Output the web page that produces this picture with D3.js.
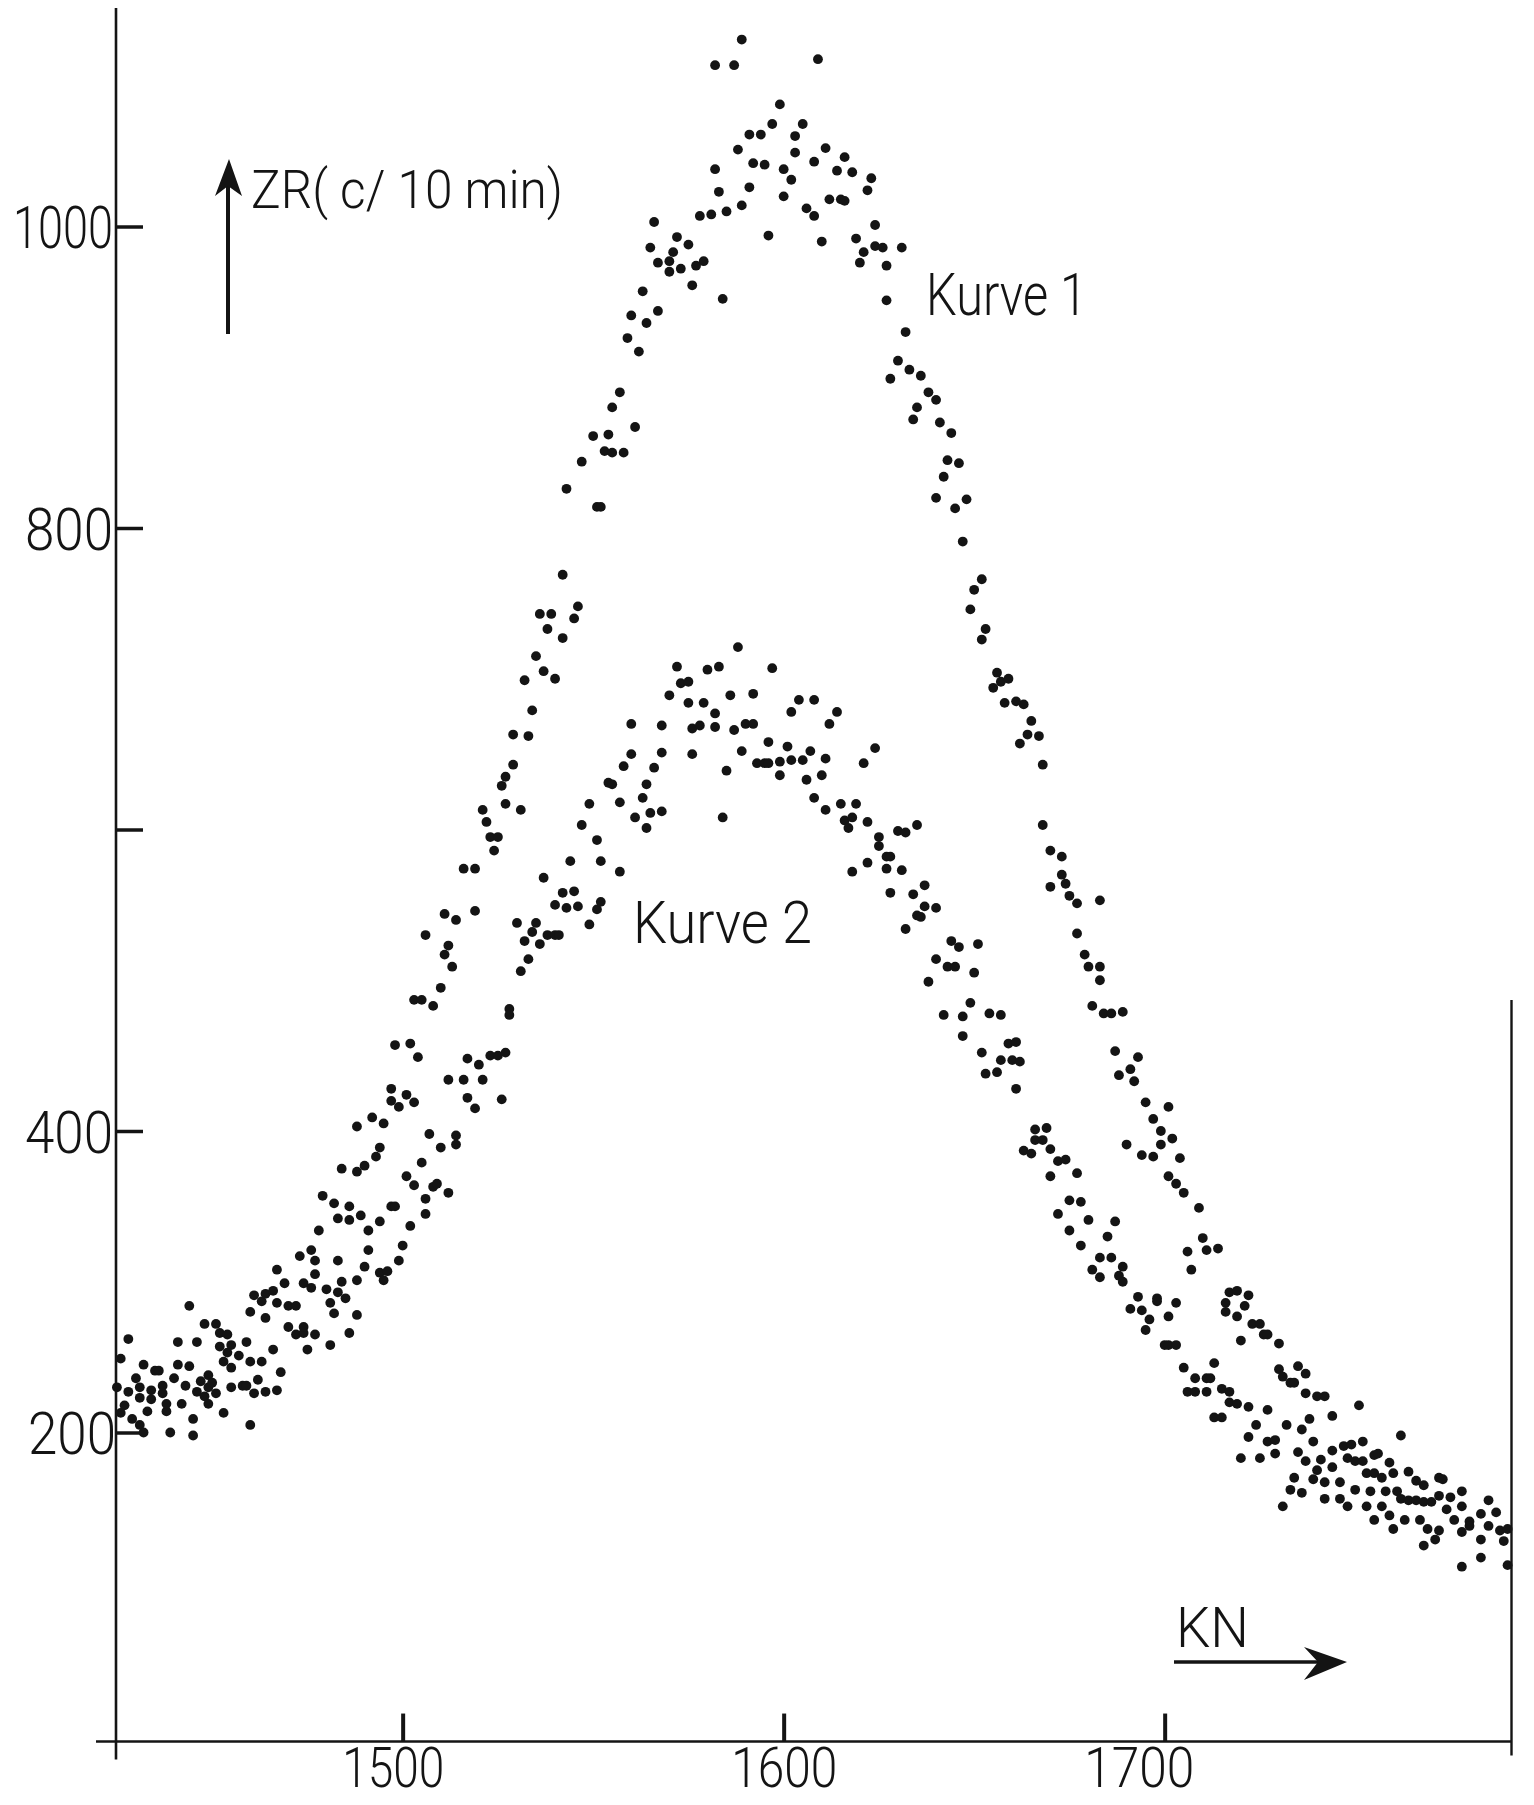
<!DOCTYPE html>
<html><head><meta charset="utf-8">
<script src="https://cdn.jsdelivr.net/npm/d3@7"></script>
<style>body{margin:0;background:#fff}svg{display:block}</style>
</head><body>
<svg id="c" width="1534" height="1805"></svg>
<script>
// Kurve 1: channel number (KN) and count rate ZR (c/10min)
const kn1 = [1426,1428,1430,1432,1435,1436,1440,1441,1441,1444,1444,1446,1448,1451,1452,1452,1454,1454,1455,1459,1460,1461,1463,1464,1464,1466,1467,1469,1473,1476,1477,1478,1479,1482,1483,1484,1486,1486,1488,1488,1490,1492,1493,1494,1495,1497,1497,1498,1499,1501,1502,1503,1503,1504,1505,1506,1508,1510,1511,1511,1512,1513,1514,1516,1519,1519,1521,1522,1523,1524,1525,1526,1527,1527,1529,1529,1531,1532,1533,1534,1535,1536,1537,1538,1539,1540,1542,1542,1543,1545,1546,1547,1550,1551,1552,1553,1554,1555,1555,1557,1558,1559,1560,1561,1562,1563,1564,1565,1566,1567,1567,1570,1570,1571,1572,1573,1575,1576,1577,1578,1579,1581,1582,1582,1583,1584,1585,1587,1588,1589,1589,1591,1591,1592,1594,1595,1596,1597,1599,1600,1600,1602,1603,1603,1605,1606,1608,1608,1609,1610,1611,1612,1614,1615,1616,1616,1618,1619,1620,1621,1622,1623,1624,1624,1626,1627,1627,1628,1630,1631,1632,1633,1634,1635,1636,1638,1640,1640,1641,1642,1643,1644,1645,1646,1647,1648,1649,1650,1652,1652,1653,1655,1656,1657,1658,1659,1661,1662,1663,1664,1665,1667,1668,1668,1670,1670,1673,1673,1674,1675,1677,1677,1679,1680,1681,1683,1683,1683,1684,1686,1687,1688,1689,1690,1691,1692,1693,1694,1695,1697,1697,1699,1699,1701,1701,1702,1703,1704,1705,1706,1707,1709,1710,1711,1714,1716,1716,1717,1719,1719,1720,1721,1722,1723,1725,1726,1727,1730,1730,1731,1732,1733,1734,1735,1736,1737,1737,1738,1739,1740,1741,1742,1744,1744,1747,1748,1749,1750,1750,1751,1752,1752,1753,1754,1755,1755,1756,1757,1758,1759,1760,1761,1762,1764,1766,1768,1772,1772,1773,1775,1778,1780,1783,1785,1787,1788,1790];
const zr1 = [249,262,236,245,241,241,236,245,260,284,244,260,272,272,266,257,265,253,258,260,280,291,287,276,292,294,308,299,317,321,314,334,357,352,342,375,341,350,373,403,377,409,383,389,405,420,428,457,416,424,458,419,487,449,487,530,483,495,544,517,523,509,540,574,574,546,613,605,595,586,595,629,635,617,643,663,613,699,662,679,715,743,705,733,743,700,727,769,826,740,748,844,861,814,814,851,862,880,850,890,850,926,941,867,917,957,936,986,1003,976,944,977,970,983,993,972,988,961,974,1007,977,1008,1107,1038,1023,952,1010,1107,1051,1124,1014,1061,1026,1042,1061,1041,994,1068,1081,1038,1020,1031,1060,1049,1068,1012,1043,1007,1111,990,1052,1018,1037,1018,1046,1017,1036,992,976,983,1024,1032,1001,987,986,974,951,899,911,986,930,905,872,880,901,890,885,820,870,834,845,863,813,843,791,819,746,759,766,726,733,694,704,698,684,700,685,657,683,663,672,662,643,603,586,562,582,570,564,556,551,531,517,509,483,553,509,500,478,478,453,437,479,391,441,433,449,384,419,408,383,400,391,416,370,395,365,382,359,320,308,349,329,321,322,286,280,293,294,277,261,284,291,272,272,265,265,259,242,237,205,233,233,244,202,239,226,209,194,224,182,224,211,188,191,183,192,181,162,218,194,181,173,161,185,173,186,170,161,180,173,161,198,174,168,165,170,158,169,157,161,141,146,155,147,135,136];

// Kurve 2
const kn2 = [1425,1426,1427,1428,1429,1431,1431,1431,1432,1433,1434,1434,1437,1437,1438,1438,1439,1442,1443,1445,1445,1446,1447,1448,1449,1449,1449,1450,1451,1453,1453,1455,1455,1457,1458,1459,1460,1460,1461,1462,1463,1464,1466,1467,1467,1468,1470,1470,1472,1472,1474,1474,1474,1475,1476,1477,1477,1480,1481,1481,1482,1483,1483,1484,1485,1486,1488,1488,1489,1490,1491,1491,1494,1494,1495,1496,1497,1498,1499,1500,1501,1502,1503,1505,1506,1506,1507,1508,1509,1510,1512,1512,1514,1514,1516,1517,1517,1519,1520,1521,1523,1525,1526,1527,1528,1528,1530,1531,1532,1533,1534,1535,1536,1537,1538,1540,1540,1541,1542,1543,1544,1545,1546,1547,1549,1549,1551,1551,1552,1552,1554,1555,1557,1557,1558,1560,1560,1561,1563,1564,1564,1565,1566,1568,1568,1568,1570,1572,1573,1575,1575,1576,1576,1578,1579,1580,1582,1582,1583,1584,1585,1586,1587,1588,1589,1590,1592,1592,1593,1595,1596,1596,1597,1599,1599,1601,1602,1602,1604,1605,1606,1607,1608,1608,1610,1611,1611,1612,1614,1615,1616,1617,1618,1618,1619,1621,1622,1622,1624,1625,1625,1627,1627,1628,1628,1630,1631,1632,1632,1634,1635,1635,1636,1637,1637,1638,1640,1640,1642,1643,1644,1645,1646,1647,1647,1649,1650,1651,1652,1653,1654,1656,1657,1657,1659,1660,1661,1661,1662,1663,1665,1666,1666,1668,1669,1670,1670,1672,1672,1674,1675,1675,1677,1678,1678,1680,1681,1683,1683,1685,1686,1687,1688,1689,1689,1691,1693,1694,1695,1696,1698,1698,1700,1701,1701,1703,1703,1705,1706,1708,1708,1711,1711,1712,1713,1713,1715,1715,1717,1717,1719,1720,1722,1722,1724,1725,1727,1727,1729,1729,1731,1733,1734,1735,1736,1737,1739,1740,1742,1742,1744,1746,1746,1748,1753,1755,1757,1759,1760,1762,1763,1764,1766,1767,1768,1768,1769,1770,1771,1772,1774,1776,1778,1778,1778,1780,1783,1783,1785,1789,1790];
const zr2 = [230,213,218,227,209,205,223,230,200,214,228,222,226,231,214,219,200,219,231,209,198,227,234,224,219,238,230,233,226,213,247,230,243,251,231,231,247,205,226,235,247,227,255,228,286,240,284,270,265,284,266,299,270,255,296,265,305,295,258,286,279,314,293,300,289,266,301,278,344,310,334,321,340,306,301,307,350,350,314,324,370,337,364,379,355,345,398,363,365,389,359,434,397,391,434,448,422,415,444,434,450,450,421,452,481,477,538,506,526,514,532,538,524,568,530,530,550,530,558,548,579,559,549,603,617,537,547,593,552,579,631,630,618,572,642,670,650,608,621,601,630,611,641,669,612,651,689,708,697,698,684,667,650,669,684,706,668,677,708,608,639,689,666,721,652,670,670,690,644,644,658,644,707,645,636,655,646,678,686,646,633,652,686,621,636,647,613,670,678,617,606,601,608,572,617,644,605,578,654,595,589,582,574,582,558,599,573,598,534,557,603,543,542,563,549,499,548,514,477,509,526,509,522,476,463,485,505,524,452,438,478,439,477,447,458,447,459,428,446,387,385,401,394,394,402,388,370,380,345,381,354,334,372,353,324,341,308,316,303,330,316,340,304,310,300,282,290,281,268,275,289,287,258,277,258,286,258,243,227,236,227,236,227,236,246,210,229,210,227,220,219,183,217,197,205,183,215,194,195,186,151,162,170,187,160,181,169,175,167,156,177,167,156,151,151,142,151,145,136,156,142,155,155,142,154,125,136,154,129,135,149,142,151,134,111,138,129,117,138,128,112];

const xTicks = [1500, 1600, 1700];
const xTickLabels = ["1500", "1600", "1700"];
const yTicks = [200, 400, 600, 800, 1000];
const yTickLabels = ["200", "400", "", "800", "1000"];
const yLabel = "ZR( c/ 10 min)";
const xLabel = "KN";
const curveNames = ["Kurve 1", "Kurve 2"];

const svg = d3.select("#c");
const x = d3.scaleLinear().domain([1424.5, 1790.9]).range([115, 1511]);
const y = d3.scaleLinear().domain([0, 1000]).range([1734, 226.5]);
const ink = "#141414";
const font = "Roboto, 'Liberation Sans', sans-serif";

const leftX = x.range()[0] + 1, rightX = x.range()[1] + 0.5, baseY = y(-5);

// frame
const frame = svg.append("g").attr("stroke", ink).attr("fill", "none");
frame.append("line").attr("x1", leftX).attr("x2", leftX).attr("y1", 8).attr("y2", baseY + 18).attr("stroke-width", 2.6);
frame.append("line").attr("x1", 96).attr("x2", rightX).attr("y1", baseY).attr("y2", baseY).attr("stroke-width", 2.6);
frame.append("line").attr("x1", rightX).attr("x2", rightX).attr("y1", 1000).attr("y2", baseY + 14).attr("stroke-width", 2.4);

// axes via d3
const xAxis = d3.axisBottom(x).tickValues(xTicks).tickSize(-28).tickSizeOuter(0).tickFormat((d,i)=>xTickLabels[i]);
const gx = svg.append("g").attr("transform", `translate(0,${baseY})`).call(xAxis);
gx.select(".domain").remove();
gx.selectAll(".tick line").attr("stroke", ink).attr("stroke-width", 4);
const xOff = [-10, 0, -26];
gx.selectAll(".tick text").each(function(d,i){
  d3.select(this).attr("y", 45).attr("dy", null).attr("x", xOff[i])
    .attr("font-family", font).attr("font-weight", 300).attr("font-size", 56)
    .attr("fill", ink).attr("textLength", i===0?102:(i===1?106:110)).attr("lengthAdjust", "spacingAndGlyphs");
});

const yAxis = d3.axisLeft(y).tickValues(yTicks).tickSize(-27).tickSizeOuter(0).tickFormat((d,i)=>yTickLabels[i]);
const gy = svg.append("g").attr("transform", `translate(${leftX},0)`).call(yAxis);
gy.select(".domain").remove();
gy.selectAll(".tick line").attr("stroke", ink).attr("stroke-width", 3.5);
gy.selectAll(".tick text").each(function(d,i){
  const t = d3.select(this);
  const s = yTickLabels[i];
  t.attr("x", s==="200" ? 0 : -3).attr("dy", null).attr("y", 21)
   .attr("font-family", font).attr("font-weight", 300).attr("font-size", 60).attr("fill", ink)
   .attr("text-anchor", "end");
  if (s) t.attr("textLength", s.length===4 ? 100 : 88).attr("lengthAdjust", "spacingAndGlyphs");
});

// data points
const pts = d3.zip(kn1, zr1).map(d=>({k:d[0], v:d[1], c:1}))
  .concat(d3.zip(kn2, zr2).map(d=>({k:d[0], v:d[1], c:2})));
svg.append("g").selectAll("circle").data(pts).join("circle")
  .attr("cx", d=>x(d.k)).attr("cy", d=>y(d.v)).attr("r", 4.9).attr("fill", ink);

// labels
const lab = (txt, px, py, size, len) => svg.append("text").text(txt)
  .attr("x", px).attr("y", py).attr("font-family", font).attr("font-weight", 300)
  .attr("font-size", size).attr("fill", ink).attr("textLength", len).attr("lengthAdjust", "spacingAndGlyphs");
lab(yLabel, 251, 208, 54, 312);
lab(curveNames[0], 926, 315, 60, 161);
lab(curveNames[1], 633, 943, 60, 179);
lab(xLabel, 1176, 1647, 56, 73);

// axis arrows
svg.append("line").attr("x1", 228).attr("x2", 228).attr("y1", 334).attr("y2", 180).attr("stroke", ink).attr("stroke-width", 4);
svg.append("path").attr("d", "M229,159 L215,196 L228,186 L242,196 Z").attr("fill", ink);
svg.append("line").attr("x1", 1174).attr("x2", 1330).attr("y1", 1662).attr("y2", 1662).attr("stroke", ink).attr("stroke-width", 3.5);
svg.append("path").attr("d", "M1347,1662 L1304,1647 L1318,1662 L1304,1680 Z").attr("fill", ink);
</script>
</body></html>
